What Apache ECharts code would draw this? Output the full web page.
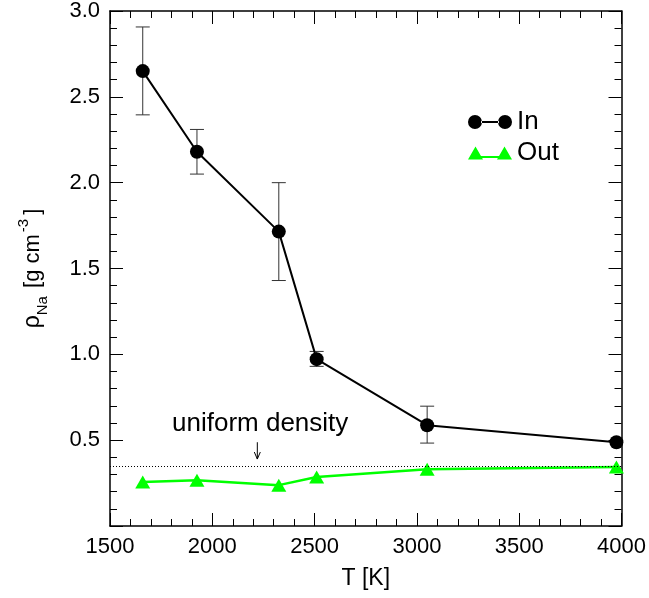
<!DOCTYPE html>
<html>
<head>
<meta charset="utf-8">
<script src="https://cdn.jsdelivr.net/npm/echarts@6/dist/echarts.min.js"></script>
<style>html,body{margin:0;padding:0;background:#fff}#c{width:649px;height:598px}</style>
</head>
<body>
<div id="c"></div>
<script>
// ---- data ----
var temps     = [1660, 1925, 2325, 2510, 3050, 3975];
var inVals    = [2.65, 2.18, 1.715, 0.972, 0.587, 0.488];
var inErrLow  = [2.395, 2.05, 1.43, 0.93, 0.483, null];
var inErrHigh = [2.907, 2.31, 2.0, 1.017, 0.698, null];
var outVals   = [0.256, 0.267, 0.238, 0.285, 0.331, 0.343];
var uniformDensity = 0.355;
var arrowX = 2220, arrowTop = 0.488, arrowBottom = 0.39;
var xTicks = [1500, 2000, 2500, 3000, 3500, 4000];
var yTicks = [0.5, 1.0, 1.5, 2.0, 2.5, 3.0];

var FONT = 'Liberation Sans, Arial, Helvetica, sans-serif';
var inData = temps.map(function (t, i) { return [t, inVals[i]]; });
var outData = temps.map(function (t, i) { return [t, outVals[i]]; });
var errData = [];
temps.forEach(function (t, i) {
  if (inErrLow[i] != null) errData.push([t, inErrLow[i], inErrHigh[i]]);
});

var circ = 'M0,7a7,7 0 1,0 14,0a7,7 0 1,0 -14,0Z M13,6L31,6L31,8L13,8Z M30,7a7,7 0 1,0 14,0a7,7 0 1,0 -14,0Z';
var tri = 'M0,14L7.5,1L15,14Z M13,10.5L31,10.5L31,12.5L13,12.5Z M29,14L36.5,1L44,14Z';

var axisCommon = {
  axisLine: { onZero: false, lineStyle: { color: '#000', width: 1.5 } },
  axisTick: { inside: true, length: 13, lineStyle: { color: '#000', width: 1 } },
  minorTick: { show: true, splitNumber: 5, length: 7, lineStyle: { color: '#000', width: 1 } },
  splitLine: { show: false }
};

var chart = echarts.init(document.getElementById('c'), null, { renderer: 'canvas' });
chart.setOption({
  animation: false,
  backgroundColor: '#fff',
  grid: { left: 110, right: 22, top: 11, bottom: 72 },
  legend: {
    orient: 'vertical', left: 463, top: 104,
    itemWidth: 44, itemHeight: 14, itemGap: 5,
    textStyle: { fontFamily: FONT, fontSize: 26, color: '#000' },
    data: [
      { name: 'In', icon: 'path://' + circ, itemStyle: { color: '#000' } },
      { name: 'Out', icon: 'path://' + tri, itemStyle: { color: '#00ff00' } }
    ]
  },
  xAxis: [
    Object.assign({}, axisCommon, {
      type: 'value', min: 1500, max: 4000, interval: 500, position: 'bottom',
      name: 'T [K]', nameLocation: 'middle', nameGap: 41,
      nameTextStyle: { fontFamily: FONT, fontSize: 23, color: '#000' },
      axisLabel: { fontFamily: FONT, fontSize: 22, color: '#000', margin: 10,
        formatter: function (v) { return xTicks.indexOf(v) >= 0 ? String(v) : ''; } }
    }),
    Object.assign({}, axisCommon, {
      type: 'value', min: 1500, max: 4000, interval: 500, position: 'top',
      axisLabel: { show: false }
    })
  ],
  yAxis: [
    Object.assign({}, axisCommon, {
      type: 'value', min: 0, max: 3.0, interval: 0.5, position: 'left',
      name: '{rho|ρ}{sub|Na}{n| [g cm}{sup|-3}{n|]}',
      nameLocation: 'middle', nameRotate: 90, nameGap: 60,
      nameTextStyle: {
        fontFamily: FONT, fontSize: 22, color: '#000',
        rich: {
          rho: { fontFamily: FONT, fontSize: 23, color: '#000', lineHeight: 34, verticalAlign: 'middle' },
          sub: { fontFamily: FONT, fontSize: 15, color: '#000', lineHeight: 34, verticalAlign: 'bottom', padding: [0, 2, 0, 0] },
          n: { fontFamily: FONT, fontSize: 22, color: '#000', lineHeight: 34, verticalAlign: 'middle' },
          sup: { fontFamily: FONT, fontSize: 15, color: '#000', lineHeight: 34, verticalAlign: 'top', padding: [0, 4, 0, 2] }
        }
      },
      axisLabel: { fontFamily: FONT, fontSize: 22, color: '#000', margin: 10,
        formatter: function (v) { return yTicks.some(function (t) { return Math.abs(t - v) < 1e-9; }) ? v.toFixed(1) : ''; } }
    }),
    Object.assign({}, axisCommon, {
      type: 'value', min: 0, max: 3.0, interval: 0.5, position: 'right',
      axisLabel: { show: false }
    })
  ],
  graphic: [
    { type: 'text', left: 172, top: 411, style: { text: 'uniform density', font: '26px ' + FONT, fill: '#000' } }
  ],
  series: [
    {
      type: 'custom', name: 'err', z: 1, silent: true,
      data: errData,
      renderItem: function (params, api) {
        var x = api.value(0);
        var pLo = api.coord([x, api.value(1)]);
        var pHi = api.coord([x, api.value(2)]);
        var hw = 7, st = { stroke: '#333', lineWidth: 1 };
        return { type: 'group', children: [
          { type: 'line', shape: { x1: pLo[0], y1: pLo[1], x2: pHi[0], y2: pHi[1] }, style: st },
          { type: 'line', shape: { x1: pLo[0] - hw, y1: pLo[1], x2: pLo[0] + hw, y2: pLo[1] }, style: st },
          { type: 'line', shape: { x1: pHi[0] - hw, y1: pHi[1], x2: pHi[0] + hw, y2: pHi[1] }, style: st }
        ] };
      }
    },
    {
      type: 'custom', name: 'arrow', z: 1, silent: true,
      data: [[arrowX, arrowTop, arrowBottom]],
      renderItem: function (params, api) {
        var x = api.value(0);
        var a = api.coord([x, api.value(1)]);
        var b = api.coord([x, api.value(2)]);
        var st = { stroke: '#000', lineWidth: 1 };
        return { type: 'group', children: [
          { type: 'line', shape: { x1: a[0], y1: a[1], x2: b[0], y2: b[1] }, style: st },
          { type: 'line', shape: { x1: b[0] - 3, y1: b[1] - 7, x2: b[0], y2: b[1] }, style: st },
          { type: 'line', shape: { x1: b[0] + 3, y1: b[1] - 7, x2: b[0], y2: b[1] }, style: st }
        ] };
      }
    },
    {
      type: 'line', name: 'In', z: 3, data: inData,
      symbol: 'circle', symbolSize: 14,
      itemStyle: { color: '#000' }, lineStyle: { color: '#000', width: 2 },
      markLine: {
        silent: true, symbol: 'none', label: { show: false },
        lineStyle: { color: '#000', type: [1, 2], width: 1 },
        data: [{ yAxis: uniformDensity }]
      }
    },
    {
      type: 'line', name: 'Out', z: 3, data: outData,
      symbol: 'triangle', symbolSize: [15, 13],
      itemStyle: { color: '#00ff00' }, lineStyle: { color: '#00ff00', width: 2.5 }
    }
  ]
});
</script>
</body>
</html>
